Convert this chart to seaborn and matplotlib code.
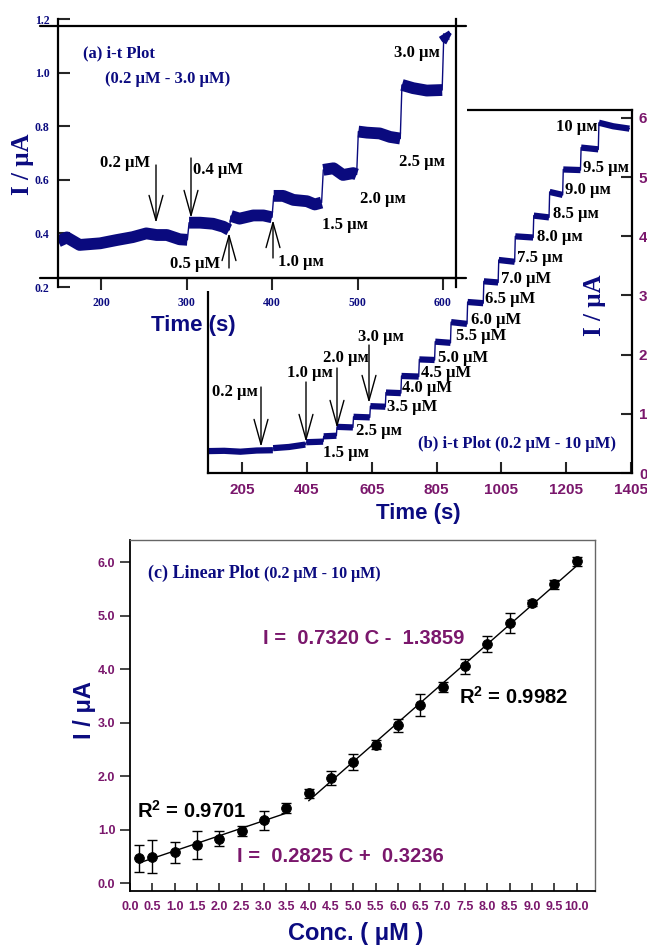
import numpy as np
import pandas as pd
import matplotlib
matplotlib.use("Agg")
import matplotlib.pyplot as plt
from matplotlib.patches import Rectangle
import seaborn as sns

# ---------------- data ----------------
# (a) amperometric i-t trace, 0.2-3.0 uM additions: one list per plateau
a_seg_t = [
    [150, 160, 175, 199, 218, 237, 253, 265, 277, 292, 301],
    [303, 316, 331, 343, 350],
    [352, 362, 378, 390, 400],
    [402, 413, 425, 441, 450, 458],
    [460, 472, 483, 495, 499],
    [501, 511, 526, 538, 550],
    [552, 565, 581, 599],
    [601, 604, 607],
]
a_seg_i = [
    [0.370, 0.385, 0.357, 0.363, 0.375, 0.386, 0.400, 0.394, 0.394, 0.378, 0.376],
    [0.440, 0.440, 0.436, 0.425, 0.413],
    [0.465, 0.455, 0.467, 0.467, 0.460],
    [0.540, 0.540, 0.525, 0.520, 0.508, 0.515],
    [0.637, 0.643, 0.618, 0.625, 0.620],
    [0.780, 0.776, 0.773, 0.760, 0.754],
    [0.954, 0.942, 0.933, 0.935],
    [1.145, 1.130, 1.125],
]

# (b) amperometric i-t trace, 0.2-10 uM additions
b_seg_t = [
    [100, 150, 200, 250, 300],
    [301, 350, 400],
    [403, 455], [457, 496], [498, 547], [549, 599], [601, 647],
    [649, 695], [697, 750], [752, 799], [801, 848], [850, 899],
    [901, 949], [951, 995], [997, 1046], [1048, 1103], [1105, 1152],
    [1154, 1194], [1196, 1249], [1251, 1304], [1306, 1350, 1400],
]
b_seg_i = [
    [0.370, 0.375, 0.360, 0.380, 0.385],
    [0.420, 0.440, 0.480],
    [0.520, 0.530], [0.620, 0.630], [0.780, 0.770], [0.950, 0.940], [1.130, 1.120],
    [1.360, 1.350], [1.640, 1.630], [1.920, 1.910], [2.220, 2.200], [2.550, 2.520],
    [2.890, 2.870], [3.240, 3.220], [3.600, 3.570], [4.000, 3.980], [4.350, 4.320],
    [4.750, 4.700], [5.130, 5.120], [5.500, 5.470], [5.920, 5.860, 5.820],
]

# (c) calibration: concentration (uM), mean current (uA), error
conc = [0.2, 0.5, 1.0, 1.5, 2.0, 2.5, 3.0, 3.5, 4.0, 4.5, 5.0,
        5.5, 6.0, 6.5, 7.0, 7.5, 8.0, 8.5, 9.0, 9.5, 10.0]
current = [0.47, 0.50, 0.58, 0.72, 0.83, 0.98, 1.18, 1.41, 1.68, 1.96, 2.27,
           2.59, 2.95, 3.33, 3.67, 4.06, 4.47, 4.87, 5.24, 5.59, 6.02]
err = [0.25, 0.30, 0.20, 0.26, 0.14, 0.09, 0.18, 0.10, 0.09, 0.13, 0.15,
       0.08, 0.12, 0.20, 0.10, 0.14, 0.15, 0.19, 0.06, 0.08, 0.08]
low_fit = (0.2825, 0.3236)     # slope, intercept
low_span = (0.2, 3.5)
high_fit = (0.7320, -1.3859)
high_span = (4.0, 10.0)

a_xticks = [200, 300, 400, 500, 600]
a_yticks = [0.2, 0.4, 0.6, 0.8, 1.0, 1.2]
b_xticks = [205, 405, 605, 805, 1005, 1205, 1405]
b_yticks = [0, 1, 2, 3, 4, 5, 6]
c_xticks = [0.0, 0.5, 1.0, 1.5, 2.0, 2.5, 3.0, 3.5, 4.0, 4.5, 5.0,
            5.5, 6.0, 6.5, 7.0, 7.5, 8.0, 8.5, 9.0, 9.5, 10.0]
c_yticks = [0.0, 1.0, 2.0, 3.0, 4.0, 5.0, 6.0]

# ---------------- style ----------------
sns.set_style("white")
plt.rcParams["font.family"] = ["Liberation Sans", "DejaVu Sans"]
plt.rcParams["mathtext.fontset"] = "custom"
plt.rcParams["mathtext.rm"] = "Liberation Sans"
plt.rcParams["mathtext.bf"] = "Liberation Sans:bold"
SERIF = ["Liberation Serif", "DejaVu Serif"]
SANS = ["Liberation Sans", "DejaVu Sans"]
NAVY = "#0b0b80"
TRACE = "#0a0a7e"
PURPLE = "#7a176c"

W, H = 647, 947
fig = plt.figure(figsize=(W / 100, H / 100), dpi=100)


def box(x0, y0, x1, y1):
    return [x0 / W, 1 - y1 / H, (x1 - x0) / W, (y1 - y0) / H]


def fp(x, y):
    return (x / W, 1 - y / H)


def ftext(x, y, s, size, color="black", family=SERIF, ha="left", rot=0):
    fig.text(x / W, 1 - y / H, s, fontsize=size, color=color, family=family,
             fontweight="bold", ha=ha, va="center", rotation=rot, zorder=6)


def arrow(ax, x, y_tail, y_tip):
    ax.annotate("", xy=fp(x, y_tip), xytext=fp(x, y_tail),
                xycoords="figure fraction", textcoords="figure fraction",
                arrowprops=dict(arrowstyle="->,head_length=1.8,head_width=0.5",
                                color="black", lw=1.0, shrinkA=0, shrinkB=0,
                                mutation_scale=10))


def draw_trace(ax, seg_t, seg_i, band_lw):
    rows = [(k, t, c) for k, (ts, cs) in enumerate(zip(seg_t, seg_i))
            for t, c in zip(ts, cs)]
    df = pd.DataFrame(rows, columns=["seg", "t", "i"])
    # thin line through the whole record, including the jumps
    sns.lineplot(data=df, x="t", y="i", estimator=None, sort=False,
                 color=TRACE, linewidth=1.0, ax=ax, legend=False)
    # thick noisy plateaus
    sns.lineplot(data=df, x="t", y="i", units="seg", estimator=None, sort=False,
                 color=TRACE, linewidth=band_lw, ax=ax, legend=False,
                 solid_capstyle="butt")


def bold_ticks(ax, family):
    for lab in ax.get_xticklabels() + ax.get_yticklabels():
        lab.set_fontweight("bold")
        lab.set_family(family)


ax_b = fig.add_axes(box(208, 110, 632, 473))
ax_a = fig.add_axes(box(58, 19, 456, 287))
ax_c = fig.add_axes(box(130, 540, 595, 891))
ax_b.set_zorder(1)
ax_a.set_zorder(3)
ax_a.patch.set_alpha(0)
# white backdrop of the inset (a) hiding the top-left corner of (b)
fig.add_artist(Rectangle(fp(0, 291), 467 / W, 291 / H, transform=fig.transFigure,
                         facecolor="white", edgecolor="none", zorder=2))

# ---------------- (b) ----------------
draw_trace(ax_b, b_seg_t, b_seg_i, 4.5)
ax_b.set_xlim(100, 1408)
ax_b.set_ylim(0, 6.135)
ax_b.set_xticks(b_xticks)
ax_b.set_xticklabels([str(v) for v in b_xticks])
ax_b.set_yticks(b_yticks)
ax_b.set_yticklabels([str(v) for v in b_yticks])
ax_b.yaxis.tick_right()
ax_b.tick_params(axis="x", direction="in", length=8, width=1.5, pad=7,
                 labelsize=11, labelcolor=PURPLE, bottom=True)
ax_b.tick_params(axis="y", direction="in", length=8, width=1.5, pad=5,
                 labelsize=11, labelcolor=PURPLE, right=True, left=False)
for sp in ax_b.spines.values():
    sp.set_linewidth(1.6)
    sp.set_color("black")
bold_ticks(ax_b, SANS)
ax_b.set_xlabel("")
ax_b.set_ylabel("")

# ---------------- (a) ----------------
draw_trace(ax_a, a_seg_t, a_seg_i, 8.5)
ax_a.set_xlim(149.7, 615.2)
ax_a.set_ylim(0.2, 1.2)
ax_a.set_xticks(a_xticks)
ax_a.set_xticklabels([str(v) for v in a_xticks])
ax_a.set_yticks(a_yticks)
ax_a.set_yticklabels([f"{v:.1f}" for v in a_yticks])
ax_a.spines["bottom"].set_position(("data", 0.234))
ax_a.spines["top"].set_visible(False)
for sp in ax_a.spines.values():
    sp.set_linewidth(1.6)
    sp.set_color("black")
for yv in (0.234, 1.174):
    ax_a.axhline(yv, xmin=-0.045, xmax=1.025, color="black", lw=1.6, clip_on=False)
ax_a.tick_params(axis="x", direction="out", length=8.5, width=1.5, pad=5,
                 labelsize=8.5, labelcolor=NAVY, bottom=True)
ax_a.tick_params(axis="y", direction="in", length=8.5, width=1.5, pad=6,
                 labelsize=8.5, labelcolor=NAVY, left=True)
bold_ticks(ax_a, SERIF)
ax_a.set_xlabel("")
ax_a.set_ylabel("")

# ---------------- (c) ----------------
ax_c.errorbar(conc, current, yerr=err, fmt="none", ecolor="black",
              elinewidth=1.0, capsize=3.6, capthick=1.0, zorder=2)
sns.scatterplot(x=conc, y=current, ax=ax_c, color="black", edgecolor="black",
                s=50, zorder=3, legend=False)
for (slope, icpt), span in ((low_fit, low_span), (high_fit, high_span)):
    xs = np.array(span)
    sns.lineplot(x=xs, y=slope * xs + icpt, ax=ax_c, color="black",
                 linewidth=1.0, legend=False)
ax_c.set_xlim(0, 10.41)
ax_c.set_ylim(-0.144, 6.417)
ax_c.set_xticks(c_xticks)
ax_c.set_xticklabels([f"{v:.1f}" for v in c_xticks])
ax_c.set_yticks(c_yticks)
ax_c.set_yticklabels([f"{v:.1f}" for v in c_yticks])
ax_c.tick_params(axis="x", direction="in", length=6, width=1.2, pad=7,
                 labelsize=9, labelcolor=PURPLE, bottom=True)
ax_c.tick_params(axis="y", direction="out", length=7, width=1.2, pad=3.5,
                 labelsize=9, labelcolor=PURPLE, left=True)
for name, sp in ax_c.spines.items():
    if name in ("top", "right"):
        sp.set_linewidth(1.0)
        sp.set_color("#666666")
    else:
        sp.set_linewidth(1.3)
        sp.set_color("black")
bold_ticks(ax_c, SANS)
ax_c.set_xlabel("")
ax_c.set_ylabel("")

# ---------------- axis titles ----------------
ftext(22, 164, "I / μA", 18, NAVY, SERIF, ha="center", rot=90)
ftext(193, 325, "Time (s)", 16, NAVY, SANS, ha="center")
ftext(595, 305, "I / μA", 18, NAVY, SERIF, ha="center", rot=90)
ftext(418, 514, "Time (s)", 16, NAVY, SANS, ha="center")
ftext(84, 710, "I / μA", 17, NAVY, SANS, ha="center", rot=90)
ftext(356, 933, "Conc. ( μM )", 17, NAVY, SANS, ha="center")

# ---------------- (a) annotations ----------------
ftext(83, 53, "(a) i-t Plot", 12, NAVY)
ftext(105, 79, "(0.2 μM - 3.0 μM)", 12, NAVY)
ftext(100, 163, "0.2 μM", 12)
ftext(193, 170, "0.4 μM", 12)
ftext(170, 264, "0.5 μM", 12)
ftext(278, 262, "1.0 μм", 12)
ftext(322, 225, "1.5 μм", 12)
ftext(360, 199, "2.0 μм", 12)
ftext(399, 162, "2.5 μм", 12)
ftext(394, 53, "3.0 μм", 12)
arrow(ax_a, 156, 165, 223)
arrow(ax_a, 191, 158, 218)
arrow(ax_a, 229, 268, 233)
arrow(ax_a, 273, 258, 220)

# ---------------- (b) annotations ----------------
ftext(418, 444, "(b) i-t Plot (0.2 μM - 10 μM)", 12, NAVY)
b_labels = [
    (212, 392, "0.2 μм"), (287, 373, "1.0 μм"), (323, 358, "2.0 μм"),
    (358, 337, "3.0 μм"), (323, 453, "1.5 μм"), (356, 431, "2.5 μм"),
    (387, 407, "3.5 μM"), (402, 388, "4.0 μM"), (421, 373, "4.5 μM"),
    (438, 358, "5.0 μM"), (456, 336, "5.5 μM"), (471, 320, "6.0 μM"),
    (485, 299, "6.5 μM"), (501, 279, "7.0 μM"), (517, 258, "7.5 μм"),
    (537, 237, "8.0 μм"), (553, 214, "8.5 μм"), (565, 190, "9.0 μм"),
    (583, 168, "9.5 μм"), (556, 127, "10 μм"),
]
for x, y, s in b_labels:
    ftext(x, y, s, 12)
arrow(ax_b, 261, 387, 447)
arrow(ax_b, 306, 382, 442)
arrow(ax_b, 337, 368, 428)
arrow(ax_b, 369, 345, 403)

# ---------------- (c) annotations ----------------
ftext(148, 573, "(c) Linear Plot", 13, NAVY)
ftext(264, 574, "(0.2 μM - 10 μM)", 11.5, NAVY)
ftext(263, 638, "I =  0.7320 C -  1.3859", 14.5, PURPLE, SANS)
ftext(459, 697, r"R$^{\mathbf{2}}$ = 0.9982", 14.5, "black", SANS)
ftext(137, 811, r"R$^{\mathbf{2}}$ = 0.9701", 14.5, "black", SANS)
ftext(237, 856, "I =  0.2825 C +  0.3236", 14.5, PURPLE, SANS)

fig.savefig("out.png", dpi=100)
